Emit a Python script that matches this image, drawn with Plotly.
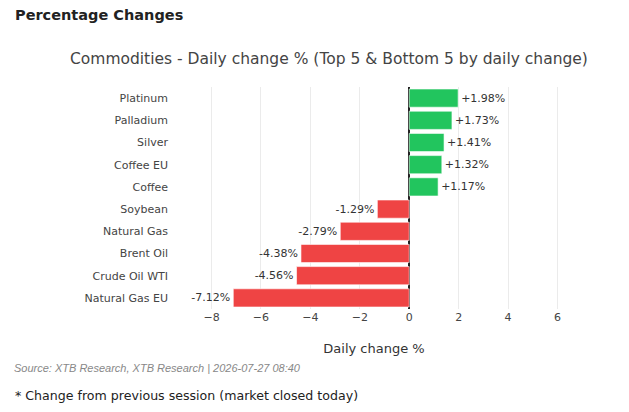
import plotly.graph_objects as go

categories = ["Natural Gas EU", "Crude Oil WTI", "Brent Oil", "Natural Gas", "Soybean",
              "Coffee", "Coffee EU", "Silver", "Palladium", "Platinum"]
values = [-7.12, -4.56, -4.38, -2.79, -1.29, 1.17, 1.32, 1.41, 1.73, 1.98]
labels = [f"{v:+.2f}%" for v in values]
colors = ["#22c55e" if v >= 0 else "#ef4444" for v in values]

FONT = "Verdana, DejaVu Sans, sans-serif"

fig = go.Figure(go.Bar(
    x=values, y=categories, orientation="h",
    marker=dict(color=colors, line=dict(color="rgba(255,255,255,0.6)", width=1)),
    text=labels, textposition="outside", cliponaxis=False,
    textfont=dict(size=11, color="#333333", family=FONT),
    hoverinfo="skip",
))

L = 172
W = 629 - 172 - 53
H = 412 - 87 - 103

fig.update_layout(
    width=629, height=412,
    margin=dict(l=L, r=53, t=87, b=103),
    paper_bgcolor="white", plot_bgcolor="white",
    bargap=0.18,
    showlegend=False,
    font=dict(family=FONT, color="#444444", size=11),
    title=dict(text="Commodities - Daily change % (Top 5 & Bottom 5 by daily change)",
               x=0.523, xanchor="center", y=0.857, yanchor="middle",
               font=dict(size=15.5, color="#444444", family=FONT)),
    xaxis=dict(range=[-9.6, 6.75], tickmode="array", tickvals=[-8, -6, -4, -2, 0, 2, 4, 6],
               ticktext=["−8", "−6", "−4", "−2", "0", "2", "4", "6"],
               showgrid=True, gridcolor="#ebebeb", zeroline=True, zerolinecolor="#222222",
               zerolinewidth=2, tickfont=dict(size=11, color="#444444"),
               title=dict(text="Daily change %", font=dict(size=13, color="#333333"), standoff=20)),
    yaxis=dict(showgrid=False, tickfont=dict(size=11, color="#444444"), ticklabelstandoff=3),
    annotations=[
        dict(text="<b>Percentage Changes</b>", xref="paper", yref="paper", x=-(L - 13) / W, y=1 + 72 / H,
             xanchor="left", yanchor="middle", showarrow=False,
             font=dict(size=14.5, color="#222222", family=FONT)),
        dict(text="<i>Source: XTB Research, XTB Research | 2026-07-27 08:40</i>", xref="paper", yref="paper",
             x=-(L - 12) / W, y=-59 / H, xanchor="left", yanchor="middle", showarrow=False,
             font=dict(size=11, color="#888888", family="Liberation Sans Narrow, Liberation Sans, sans-serif")),
        dict(text="* Change from previous session (market closed today)", xref="paper", yref="paper",
             x=-(L - 13) / W, y=-86 / H, xanchor="left", yanchor="middle", showarrow=False,
             font=dict(size=12.6, color="#222222", family=FONT)),
    ],
)

fig.write_html("out.html")
